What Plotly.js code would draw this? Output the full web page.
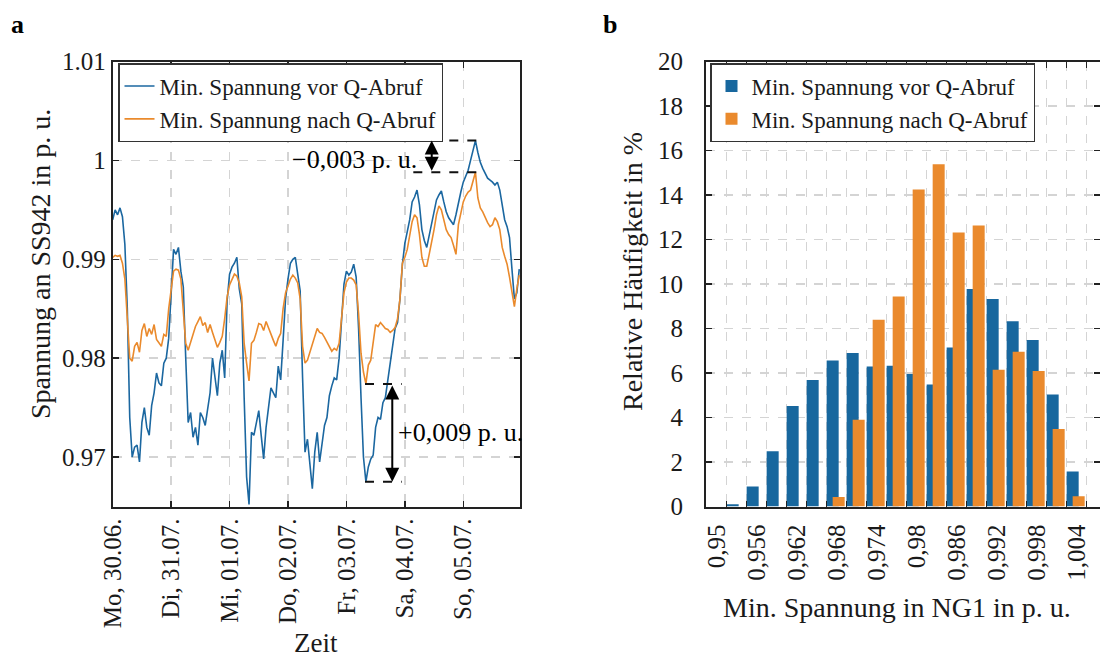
<!DOCTYPE html>
<html>
<head>
<meta charset="utf-8">
<script src="https://cdn.plot.ly/plotly-3.0.1.min.js"></script>
<style>
  html, body { margin: 0; padding: 0; background: #fff; }
  #chart { width: 1100px; height: 660px; }
</style>
</head>
<body>
<div id="chart"></div>
<script>
// ---------- Data (panel a): hourly minimum voltage, 30.06. .. 06.07. ----------
const dayLabels = ['Mo, 30.06.', 'Di, 31.07.', 'Mi, 01.07.', 'Do, 02.07.', 'Fr, 03.07.', 'Sa, 04.07.', 'So, 05.07.'];
const dayTicks = [0, 1, 2, 3, 4, 5, 6];

const vorQ = [
0.9940,0.9950,0.9945,0.9952,0.9943,0.9915,0.9850,0.9740,0.9700,0.9710,
0.9712,0.9695,0.9735,0.9750,0.9730,0.9722,0.9752,0.9765,0.9785,0.9775,
0.9772,0.9795,0.9800,0.9820,0.9865,0.9910,0.9905,0.9912,0.9888,0.9872,
0.9800,0.9735,0.9745,0.9720,0.9730,0.9712,0.9745,0.9740,0.9732,0.9748,
0.9765,0.9800,0.9780,0.9762,0.9795,0.9808,0.9780,0.9858,0.9885,0.9892,
0.9896,0.9902,0.9870,0.9855,0.9760,0.9680,0.9652,0.9725,0.9722,0.9735,
0.9747,0.9722,0.9698,0.9730,0.9752,0.9770,0.9765,0.9760,0.9792,0.9778,
0.9818,0.9860,0.9880,0.9896,0.9900,0.9902,0.9885,0.9868,0.9780,0.9705,
0.9718,0.9690,0.9668,0.9705,0.9725,0.9695,0.9715,0.9732,0.9740,0.9762,
0.9772,0.9780,0.9778,0.9800,0.9838,0.9875,0.9888,0.9884,0.9887,0.9895,
0.9882,0.9830,0.9760,0.9700,0.9675,0.9690,0.9698,0.9702,0.9730,0.9740,
0.9738,0.9755,0.9760,0.9778,0.9795,0.9815,0.9830,0.9836,0.9860,0.9895,
0.9916,0.9928,0.9940,0.9958,0.9963,0.9970,0.9955,0.9930,0.9919,0.9912,
0.9925,0.9935,0.9950,0.9960,0.9965,0.9969,0.9958,0.9948,0.9942,0.9939,
0.9935,0.9945,0.9958,0.9968,0.9978,0.9984,0.9990,1.0000,1.0010,1.0020,
1.0008,0.9998,0.9992,0.9986,0.9982,0.9980,0.9978,0.9975,0.9978,0.9970,
0.9955,0.9940,0.9933,0.9922,0.9890,0.9860,0.9866,0.9890];

const nachQ = [
0.9902,0.9904,0.9903,0.9904,0.9896,0.9880,0.9840,0.9800,0.9797,0.9812,
0.9816,0.9806,0.9828,0.9835,0.9822,0.9830,0.9824,0.9834,0.9819,0.9816,
0.9812,0.9824,0.9822,0.9850,0.9872,0.9888,0.9890,0.9889,0.9880,0.9848,
0.9815,0.9808,0.9816,0.9826,0.9832,0.9837,0.9842,0.9833,0.9836,0.9826,
0.9834,0.9826,0.9818,0.9811,0.9816,0.9822,0.9840,0.9862,0.9874,0.9880,
0.9885,0.9883,0.9876,0.9862,0.9815,0.9795,0.9777,0.9815,0.9818,0.9826,
0.9835,0.9834,0.9828,0.9837,0.9830,0.9823,0.9818,0.9812,0.9820,0.9825,
0.9850,0.9866,0.9874,0.9880,0.9884,0.9881,0.9876,0.9860,0.9812,0.9795,
0.9798,0.9806,0.9812,0.9820,0.9830,0.9826,0.9825,0.9821,0.9816,0.9812,
0.9807,0.9810,0.9808,0.9815,0.9840,0.9866,0.9877,0.9881,0.9881,0.9879,
0.9874,0.9845,0.9805,0.9786,0.9774,0.9793,0.9798,0.9818,0.9834,0.9832,
0.9836,0.9833,0.9830,0.9829,0.9826,0.9828,0.9831,0.9840,0.9860,0.9896,
0.9902,0.9910,0.9925,0.9938,0.9945,0.9942,0.9925,0.9902,0.9893,0.9893,
0.9905,0.9916,0.9930,0.9945,0.9954,0.9950,0.9940,0.9930,0.9925,0.9922,
0.9914,0.9905,0.9935,0.9946,0.9958,0.9964,0.9968,0.9970,0.9978,0.9988,
0.9962,0.9952,0.9948,0.9942,0.9937,0.9933,0.9935,0.9942,0.9938,0.9930,
0.9912,0.9903,0.9895,0.9882,0.9865,0.9852,0.9870,0.9884];

// ---------- Data (panel b): histogram of minimum voltage in NG1 ----------
const binEdges = [0.950,0.953,0.956,0.959,0.962,0.965,0.968,0.971,0.974,0.977,0.980,0.983,0.986,0.989,0.992,0.995,0.998,1.001];
const histVor  = [0.10,0.90,2.48,4.52,5.69,6.56,6.90,6.29,6.33,5.96,5.48,7.15,9.78,9.33,8.33,7.48,5.03,1.57];
const histNach = [0,0,0,0,0,0.43,3.90,8.39,9.44,14.25,15.38,12.31,12.63,6.15,6.96,6.09,3.48,0.46];
const histTickVals = [0.950,0.953,0.956,0.959,0.962,0.965,0.968,0.971,0.974,0.977,0.980,0.983,0.986,0.989,0.992,0.995,0.998,1.001,1.004];
const histTickText = ['0,95','','0,956','','0,962','','0,968','','0,974','','0,98','','0,986','','0,992','','0,998','','1,004'];

const nameVor = 'Min. Spannung vor Q-Abruf';
const nameNach = 'Min. Spannung nach Q-Abruf';

// ---------- Build ----------
const tDays = vorQ.map((_, i) => i / 24);
const FONT = '"Liberation Serif", "Times New Roman", serif';
const TXT = '#1a1a1a';
const BLUE_LINE = '#1b67a0';
const ORANGE_LINE = '#ea8a2c';
const BLUE_BAR = '#17679e';
const ORANGE_BAR = '#ea8a2d';

const traces = [
  { type: 'scatter', mode: 'lines', x: tDays, y: vorQ, name: nameVor,
    line: { color: BLUE_LINE, width: 1.6 }, xaxis: 'x', yaxis: 'y', legend: 'legend' },
  { type: 'scatter', mode: 'lines', x: tDays, y: nachQ, name: nameNach,
    line: { color: ORANGE_LINE, width: 1.6 }, xaxis: 'x', yaxis: 'y', legend: 'legend' },
  { type: 'bar', x: binEdges, y: histVor, name: nameVor, width: 0.0018, offset: 0,
    marker: { color: BLUE_BAR, line: { width: 0 } }, opacity: 1, xaxis: 'x2', yaxis: 'y2', legend: 'legend2' },
  { type: 'bar', x: binEdges, y: histNach, name: nameNach, width: 0.0018, offset: 0.0009,
    marker: { color: ORANGE_BAR, line: { width: 0 } }, opacity: 1, xaxis: 'x2', yaxis: 'y2', legend: 'legend2' }
];

// extremes used by the annotation brackets
const maxVor = Math.max(...vorQ.slice(140, 160));
const maxNach = Math.max(...nachQ.slice(140, 160));
const minVor = Math.min(...vorQ.slice(96, 116));
const minNach = Math.min(...nachQ.slice(96, 116));

const axCommon = {
  showline: true, linewidth: 2, linecolor: '#222', mirror: 'ticks',
  ticks: 'inside', ticklen: 6, tickwidth: 1.5, tickcolor: '#222',
  showgrid: true, gridcolor: '#d4d4d4', griddash: 'dash', gridwidth: 1.5,
  zeroline: false, tickfont: { family: FONT, size: 25, color: TXT }
};

const legendCommon = {
  xanchor: 'left', yanchor: 'top',
  bgcolor: '#fff', bordercolor: '#333', borderwidth: 1.5,
  font: { family: FONT, size: 23, color: TXT }, tracegroupgap: 0, itemwidth: 30
};

const dash = { color: '#111', width: 2, dash: 'dash' };
const arrowCommon = {
  xref: 'x', yref: 'y', axref: 'x', ayref: 'y', text: '', showarrow: true,
  arrowside: 'end+start', arrowhead: 2, startarrowhead: 2,
  arrowsize: 1.4, startarrowsize: 1.4, arrowwidth: 2, arrowcolor: '#000', standoff: 0, startstandoff: 0
};
const layout = {
  width: 1100, height: 660,
  margin: { l: 0, r: 0, t: 0, b: 0 },
  paper_bgcolor: '#fff', plot_bgcolor: '#fff',
  font: { family: FONT, color: TXT },
  barmode: 'overlay',
  showlegend: true,
  xaxis: Object.assign({}, axCommon, {
    domain: [112.7 / 1100, 520 / 1100], range: [0, 6.971],
    tickmode: 'array', tickvals: dayTicks, ticktext: dayLabels, tickangle: -90, anchor: 'y'
  }),
  yaxis: Object.assign({}, axCommon, {
    domain: [1 - 506.5 / 660, 1 - 61.5 / 660], range: [0.965, 1.01],
    tickmode: 'array', tickvals: [0.97, 0.98, 0.99, 1, 1.01], ticktext: ['0.97', '0.98', '0.99', '1', '1.01'],
    anchor: 'x'
  }),
  xaxis2: Object.assign({}, axCommon, {
    domain: [706 / 1100, 1], range: [0.9469, 1.006],
    tickmode: 'array', tickvals: histTickVals, ticktext: histTickText, tickangle: -90,
    ticklabelshift: -10, ticklabelstandoff: 6, anchor: 'y2'
  }),
  yaxis2: Object.assign({}, axCommon, {
    domain: [1 - 506.5 / 660, 1 - 61.5 / 660], range: [0, 20], dtick: 2, tick0: 0,
    ticklabelstandoff: 16, anchor: 'x2'
  }),
  legend: Object.assign({}, legendCommon, { x: 118 / 1100, y: 1 - 63 / 660 }),
  legend2: Object.assign({}, legendCommon, { x: 710 / 1100, y: 1 - 63 / 660 }),
  shapes: [
    { type: 'line', xref: 'x', yref: 'y', x0: 5.145, x1: 6.23, y0: maxVor, y1: maxVor, line: dash },
    { type: 'line', xref: 'x', yref: 'y', x0: 5.145, x1: 6.23, y0: maxNach, y1: maxNach, line: dash },
    { type: 'line', xref: 'x', yref: 'y', x0: 4.318, x1: 4.946, y0: minNach, y1: minNach, line: dash },
    { type: 'line', xref: 'x', yref: 'y', x0: 4.318, x1: 4.946, y0: minVor, y1: minVor, line: dash }
  ],
  annotations: [
    Object.assign({}, arrowCommon, { x: 5.46, y: maxVor, ax: 5.46, ay: maxNach }),
    Object.assign({}, arrowCommon, { x: 4.785, y: minVor, ax: 4.785, ay: minNach }),
    { xref: 'x', yref: 'y', x: 5.235, y: 1.0001, xanchor: 'right', yanchor: 'middle', showarrow: false,
      text: '\u22120,003 p. u.', font: { family: FONT, size: 26, color: '#000' } },
    { xref: 'x', yref: 'y', x: 4.85, y: 0.9725, xanchor: 'left', yanchor: 'middle', showarrow: false,
      text: '+0,009 p. u.', font: { family: FONT, size: 26, color: '#000' } },
    // panel labels
    { xref: 'paper', yref: 'paper', x: 17 / 1100, y: 1 - 24 / 660, xanchor: 'center', yanchor: 'middle',
      showarrow: false, text: '<b>a</b>', font: { family: FONT, size: 26, color: '#000' } },
    { xref: 'paper', yref: 'paper', x: 610 / 1100, y: 1 - 24 / 660, xanchor: 'center', yanchor: 'middle',
      showarrow: false, text: '<b>b</b>', font: { family: FONT, size: 26, color: '#000' } },
    // axis titles
    { xref: 'paper', yref: 'paper', x: 316 / 1100, y: 0, xanchor: 'center', yanchor: 'bottom',
      showarrow: false, text: 'Zeit', font: { family: FONT, size: 27, color: TXT } },
    { xref: 'paper', yref: 'paper', x: 40 / 1100, y: 1 - 264 / 660, xanchor: 'center', yanchor: 'middle',
      showarrow: false, textangle: -90, text: 'Spannung an SS942 in p. u.', font: { family: FONT, size: 28, color: TXT } },
    { xref: 'paper', yref: 'paper', x: 632 / 1100, y: 1 - 272 / 660, xanchor: 'center', yanchor: 'middle',
      showarrow: false, textangle: -90, text: 'Relative Häufigkeit in %', font: { family: FONT, size: 28, color: TXT } },
    { xref: 'paper', yref: 'paper', x: 897 / 1100, y: 1 - 607 / 660, xanchor: 'center', yanchor: 'middle',
      showarrow: false, text: 'Min. Spannung in NG1 in p. u.', font: { family: FONT, size: 28, color: TXT } }
  ]
};

Plotly.newPlot('chart', traces, layout, { displayModeBar: false, staticPlot: true });
</script>
</body>
</html>
